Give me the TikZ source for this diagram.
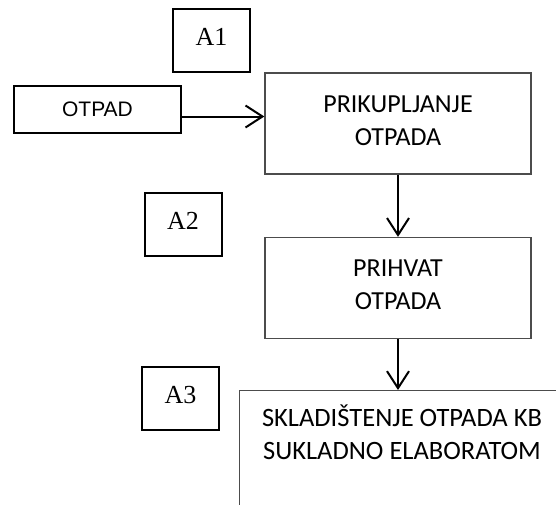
\documentclass[tikz,border=0pt]{standalone}
\usepackage{fontspec}
\usetikzlibrary{arrows.meta,positioning}
\newfontfamily\calibrifont{Carlito}
\newfontfamily\arialfont{Liberation Sans}
\newfontfamily\timesfont{Liberation Serif}
\begin{document}
\begin{tikzpicture}[x=1pt,y=-1pt,
  tagbox/.style={draw=black, line width=2pt, minimum width=77pt, minimum height=63pt, inner sep=0pt, text depth=8pt, font=\timesfont\fontsize{26}{30}\selectfont},
  inbox/.style={draw=black, line width=2pt, minimum width=167pt, minimum height=47pt, inner sep=0pt, font=\arialfont\fontsize{21}{25}\selectfont},
  procbox/.style={draw=black!70, line width=1.3pt, minimum width=266pt, minimum height=101pt, inner sep=0pt, align=center, text depth=6pt, font=\calibrifont\fontsize{26}{33}\selectfont},
  flow/.style={-{Straight Barb[length=17pt,width=22pt,line width=2pt]}, line width=2pt}]
\path[use as bounding box, clip] (0,0) rectangle (556,504);
\node[tagbox] (a1) at (211.5,40.5) {A1};
\node[inbox] (otpad) at (97.5,109.5) {OTPAD};
\node[procbox] (prik) at (398,123.5) {PRIKUPLJANJE\\OTPADA};
\node[tagbox] (a2) at (183,224.5) {A2};
\node[procbox] (prihvat) at (398,288) {PRIHVAT\\OTPADA};
\node[tagbox] (a3) at (180.5,398.5) {A3};
% box runs off the page on the right and bottom
\node[procbox, minimum width=340pt, minimum height=150pt, anchor=north west] (sklad) at (239,390) {};
\node[align=center, inner sep=0pt, anchor=base, font=\calibrifont\fontsize{26.5}{33}\selectfont] (skladtxt) at (402,459) {SKLADIŠTENJE OTPADA KB\\SUKLADNO ELABORATOM};
\draw[flow] ([yshift=-7pt]otpad.east) -- ([yshift=-7pt]otpad.east -| prik.west);
\draw[flow] (prik.south) -- (prihvat.north);
\draw[flow] (prihvat.south) -- (prihvat.south |- sklad.north);
\end{tikzpicture}
\end{document}
